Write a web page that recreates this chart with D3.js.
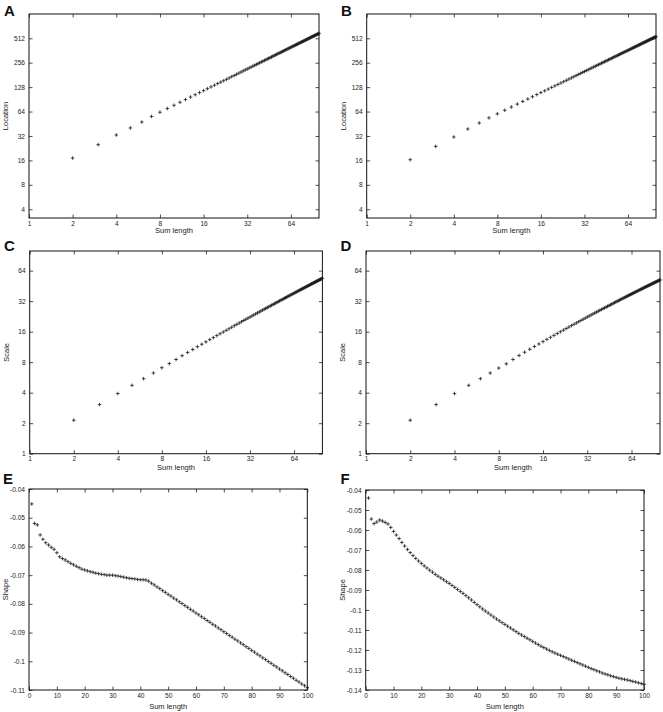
<!DOCTYPE html>
<html lang="en">
<head>
  <meta charset="UTF-8" />
  <title>Location, scale and shape vs sum length</title>
  <style>
    body { margin: 0; background: #fff; }
    svg { display: block; font-family: 'Liberation Sans', Arial, sans-serif; }
    .tick text { font-size: 6.6px; fill: #222; }
    .tick line { stroke: #222; stroke-width: 0.8; }
    .axis-title { font-size: 7.5px; fill: #222; }
    .panel-letter { font-size: 15px; font-weight: bold; fill: #111; }
  </style>
</head>
<body>
  <svg id="chart" width="663" height="712"></svg>
  <script src="https://d3js.org/d3.v7.min.js"></script>
  <script>
    // ---- data ----
    const sumLengthLog = d3.range(2, 101);   // sum lengths 2..100 (log panels)
    const sumLengthLin = d3.range(1, 101);   // sum lengths 1..100 (shape panels)

    const locationA = [17.1, 25.0, 32.9, 40.2, 47.5, 55.7, 62.8, 69.7, 76.5, 83.3,
      89.9, 96.6, 103.1, 109.6, 116.0, 122.5, 128.8, 135.2, 141.4,
      147.5, 153.6, 159.8, 165.9, 172.0, 178.1, 184.2, 190.4, 196.5, 202.6,
      208.5, 214.3, 220.2, 226.1, 231.9, 237.8, 243.7, 249.6, 255.4, 261.3,
      267.0, 272.7, 278.5, 284.2, 289.9, 295.6, 301.3, 307.1, 312.8, 318.5,
      324.1, 329.7, 335.3, 340.9, 346.5, 352.0, 357.6, 363.2, 368.8, 374.4,
      379.9, 385.3, 390.8, 396.3, 401.8, 407.2, 412.7, 418.2, 423.6, 429.1,
      434.5, 439.9, 445.2, 450.6, 456.0, 461.4, 466.8, 472.1, 477.5, 482.9,
      488.2, 493.6, 498.9, 504.2, 509.6, 514.9, 520.2, 525.5, 530.9, 536.2,
      541.4, 546.7, 551.9, 557.2, 562.4, 567.6, 572.9, 578.1, 583.4, 588.6];

    const locationB = [16.3, 23.8, 31.1, 39.0, 46.3, 53.5, 60.0, 66.4, 72.8, 79.1,
      85.3, 91.4, 97.5, 103.5, 109.5, 115.3, 121.2, 127.0, 132.8,
      138.4, 144.0, 149.6, 155.2, 160.8, 166.3, 171.9, 177.5, 183.1, 188.7,
      194.1, 199.4, 204.8, 210.1, 215.5, 220.8, 226.2, 231.5, 236.9, 242.2,
      247.4, 252.5, 257.7, 262.9, 268.1, 273.2, 278.4, 283.6, 288.7, 293.9,
      298.9, 304.0, 309.0, 314.1, 319.1, 324.1, 329.2, 334.2, 339.3, 344.3,
      349.2, 354.1, 359.0, 363.9, 368.8, 373.7, 378.6, 383.5, 388.4, 393.3,
      398.2, 403.0, 407.9, 412.7, 417.6, 422.4, 427.3, 432.1, 437.0, 441.8,
      446.6, 451.3, 456.1, 460.9, 465.7, 470.4, 475.2, 480.0, 484.7, 489.5,
      494.2, 498.8, 503.5, 508.1, 512.8, 517.5, 522.1, 526.8, 531.4, 536.1];

    const scaleC = [2.14, 3.05, 3.92, 4.73, 5.50, 6.25, 7.05, 7.75, 8.50, 9.27,
      9.98, 10.67, 11.36, 12.03, 12.69, 13.35, 13.99, 14.63, 15.26,
      15.87, 16.48, 17.08, 17.69, 18.30, 18.88, 19.46, 20.04, 20.62, 21.20,
      21.75, 22.30, 22.86, 23.41, 23.96, 24.49, 25.03, 25.56, 26.10, 26.63,
      27.14, 27.65, 28.16, 28.67, 29.18, 29.69, 30.19, 30.70, 31.21, 31.72,
      32.20, 32.68, 33.16, 33.64, 34.12, 34.60, 35.08, 35.56, 36.04, 36.52,
      36.98, 37.43, 37.89, 38.35, 38.81, 39.26, 39.72, 40.18, 40.63, 41.09,
      41.53, 41.97, 42.41, 42.85, 43.29, 43.73, 44.17, 44.61, 45.05, 45.49,
      45.91, 46.33, 46.76, 47.18, 47.60, 48.02, 48.44, 48.86, 49.29, 49.71,
      50.12, 50.53, 50.94, 51.35, 51.76, 52.16, 52.57, 52.98, 53.39, 53.80];

    const scaleD = [2.14, 3.05, 3.92, 4.73, 5.50, 6.25, 7.00, 7.70, 8.50, 9.31,
      10.03, 10.73, 11.42, 12.10, 12.77, 13.43, 14.08, 14.71, 15.34,
      15.95, 16.55, 17.16, 17.76, 18.37, 18.94, 19.51, 20.08, 20.65, 21.22,
      21.76, 22.30, 22.84, 23.38, 23.92, 24.44, 24.96, 25.47, 25.99, 26.51,
      27.00, 27.49, 27.97, 28.46, 28.95, 29.44, 29.93, 30.41, 30.90, 31.39,
      31.85, 32.30, 32.76, 33.21, 33.67, 34.12, 34.58, 35.03, 35.49, 35.94,
      36.37, 36.79, 37.22, 37.64, 38.07, 38.50, 38.92, 39.35, 39.77, 40.20,
      40.61, 41.02, 41.42, 41.83, 42.24, 42.65, 43.06, 43.46, 43.87, 44.28,
      44.67, 45.05, 45.44, 45.83, 46.22, 46.60, 46.99, 47.38, 47.76, 48.15,
      48.52, 48.88, 49.25, 49.61, 49.98, 50.34, 50.71, 51.07, 51.44, 51.80];

    const shapeE = [-0.0452, -0.0520, -0.0525, -0.0560, -0.0575, -0.0587, -0.0595, -0.0603, -0.0610, -0.0622,
      -0.0636, -0.0642, -0.0647, -0.0653, -0.0659, -0.0664, -0.0669, -0.0674, -0.0679, -0.0682,
      -0.0685, -0.0688, -0.0690, -0.0693, -0.0695, -0.0697, -0.0698, -0.0700, -0.0700, -0.0700,
      -0.0702, -0.0703, -0.0705, -0.0707, -0.0709, -0.0711, -0.0712, -0.0713, -0.0715, -0.0716,
      -0.0716, -0.0717, -0.0721, -0.0728, -0.0734, -0.0741, -0.0747, -0.0754, -0.0760, -0.0767,
      -0.0773, -0.0780, -0.0786, -0.0793, -0.0799, -0.0806, -0.0812, -0.0819, -0.0825, -0.0832,
      -0.0838, -0.0845, -0.0851, -0.0858, -0.0864, -0.0871, -0.0877, -0.0884, -0.0890, -0.0897,
      -0.0903, -0.0910, -0.0916, -0.0923, -0.0929, -0.0936, -0.0942, -0.0949, -0.0955, -0.0962,
      -0.0968, -0.0975, -0.0981, -0.0988, -0.0994, -0.1001, -0.1007, -0.1014, -0.1020, -0.1027,
      -0.1033, -0.1040, -0.1046, -0.1053, -0.1059, -0.1066, -0.1072, -0.1079, -0.1085, -0.1092];

    const shapeF = [-0.0440, -0.0545, -0.0568, -0.0560, -0.0550, -0.0555, -0.0562, -0.0570, -0.0587, -0.0607,
      -0.0625, -0.0643, -0.0662, -0.0680, -0.0697, -0.0713, -0.0728, -0.0742, -0.0755, -0.0767,
      -0.0779, -0.0790, -0.0801, -0.0811, -0.0822, -0.0831, -0.0840, -0.0849, -0.0858, -0.0867,
      -0.0877, -0.0887, -0.0897, -0.0907, -0.0917, -0.0928, -0.0939, -0.0950, -0.0962, -0.0973,
      -0.0984, -0.0995, -0.1005, -0.1015, -0.1025, -0.1035, -0.1045, -0.1054, -0.1063, -0.1072,
      -0.1081, -0.1090, -0.1099, -0.1108, -0.1117, -0.1125, -0.1133, -0.1141, -0.1149, -0.1157,
      -0.1165, -0.1173, -0.1181, -0.1188, -0.1195, -0.1202, -0.1209, -0.1215, -0.1221, -0.1227,
      -0.1233, -0.1239, -0.1245, -0.1251, -0.1257, -0.1263, -0.1269, -0.1275, -0.1281, -0.1287,
      -0.1293, -0.1298, -0.1304, -0.1309, -0.1315, -0.1320, -0.1324, -0.1329, -0.1333, -0.1337,
      -0.1341, -0.1344, -0.1347, -0.1350, -0.1353, -0.1357, -0.1360, -0.1364, -0.1368, -0.1372];

    // tick labels
    const logXTicks = [1, 2, 4, 8, 16, 32, 64];
    const locationTicks = [4, 8, 16, 32, 64, 128, 256, 512];
    const scaleTicks = [1, 2, 4, 8, 16, 32, 64];
    const linXTicks = [0, 10, 20, 30, 40, 50, 60, 70, 80, 90, 100];
    const shapeETicks = [-0.04, -0.05, -0.06, -0.07, -0.08, -0.09, -0.1, -0.11];
    const shapeFTicks = [-0.04, -0.05, -0.06, -0.07, -0.08, -0.09, -0.1, -0.11, -0.12, -0.13, -0.14];

    const svg = d3.select("#chart");

    // Panel layout (pixel box of each plot frame)
    const panels = [
      { letter: "A", lx: 4, ly: 15.5, left: 29, right: 319, top: 14, bottom: 218,
        xLog: true, yLog: true, xDomain: [1, 100], yDomain: [3.12, 1020],
        xTicks: logXTicks, yTicks: locationTicks, yTitle: "Location", titleDy: 13,
        xs: sumLengthLog, ys: locationA },
      { letter: "B", lx: 341, ly: 15.5, left: 366.7, right: 656, top: 14, bottom: 218,
        xLog: true, yLog: true, xDomain: [1, 100], yDomain: [3.12, 1020],
        xTicks: logXTicks, yTicks: locationTicks, yTitle: "Location", titleDy: 13,
        xs: sumLengthLog, ys: locationB },
      { letter: "C", lx: 4, ly: 251, left: 29.7, right: 322.4, top: 251, bottom: 453.7,
        xLog: true, yLog: true, xDomain: [1, 100], yDomain: [1, 100],
        xTicks: logXTicks, yTicks: scaleTicks, yTitle: "Scale", titleDy: 14.5,
        xs: sumLengthLog, ys: scaleC },
      { letter: "D", lx: 340.5, ly: 251, left: 366, right: 660, top: 251, bottom: 453.7,
        xLog: true, yLog: true, xDomain: [1, 100], yDomain: [1, 100],
        xTicks: logXTicks, yTicks: scaleTicks, yTitle: "Scale", titleDy: 14.5,
        xs: sumLengthLog, ys: scaleD },
      { letter: "E", lx: 3, ly: 484, left: 29, right: 307.3, top: 489, bottom: 690,
        xLog: false, yLog: false, xDomain: [0, 100], yDomain: [-0.11, -0.04],
        xTicks: linXTicks, yTicks: shapeETicks, yTitle: "Shape", titleDy: 17,
        xs: sumLengthLin, ys: shapeE },
      { letter: "F", lx: 340.5, ly: 484, left: 365.7, right: 644, top: 490, bottom: 690,
        xLog: false, yLog: false, xDomain: [0, 100], yDomain: [-0.14, -0.04],
        xTicks: linXTicks, yTicks: shapeFTicks, yTitle: "Shape", titleDy: 17,
        xs: sumLengthLin, ys: shapeF }
    ];

    function drawPanel(p) {
      const x = (p.xLog ? d3.scaleLog().base(2) : d3.scaleLinear())
        .domain(p.xDomain).range([p.left, p.right]);
      const y = (p.yLog ? d3.scaleLog().base(2) : d3.scaleLinear())
        .domain(p.yDomain).range([p.bottom, p.top]);
      const fmt = d => String(d);
      const g = svg.append("g");

      // inward ticks on all four sides, labels only bottom & left
      g.append("g").attr("transform", `translate(0,${p.bottom})`)
        .call(d3.axisBottom(x).tickValues(p.xTicks).tickSize(-3.5).tickPadding(3).tickFormat(fmt));
      g.append("g").attr("transform", `translate(0,${p.top})`)
        .call(d3.axisTop(x).tickValues(p.xTicks).tickSize(-3.5).tickFormat(""));
      g.append("g").attr("transform", `translate(${p.left},0)`)
        .call(d3.axisLeft(y).tickValues(p.yTicks).tickSize(-3.5).tickPadding(4).tickFormat(fmt));
      g.append("g").attr("transform", `translate(${p.right},0)`)
        .call(d3.axisRight(y).tickValues(p.yTicks).tickSize(-3.5).tickFormat(""));
      g.selectAll(".domain").remove();
      g.selectAll("g > g").attr("font-family", null).attr("font-size", null);

      // frame
      g.append("rect")
        .attr("x", p.left).attr("y", p.top)
        .attr("width", p.right - p.left).attr("height", p.bottom - p.top)
        .attr("fill", "none").attr("stroke", "#111").attr("stroke-width", 1);

      // "+" point markers
      const pts = p.xs.map((v, i) => [v, p.ys[i]]);
      g.append("g").selectAll("path")
        .data(pts)
        .join("path")
        .attr("transform", d => `translate(${x(d[0])},${y(d[1])})`)
        .attr("d", "M-1.8,0H1.8M0,-1.8V1.8")
        .attr("stroke", "#1a1a1a")
        .attr("stroke-width", 0.8)
        .attr("fill", "none");

      // axis titles
      g.append("text").attr("class", "axis-title")
        .attr("x", (p.left + p.right) / 2).attr("y", p.bottom + p.titleDy)
        .attr("text-anchor", "middle").attr("dominant-baseline", "middle")
        .text("Sum length");
      g.append("text").attr("class", "axis-title")
        .attr("transform", `translate(${p.left - 23},${(p.top + p.bottom) / 2}) rotate(-90)`)
        .attr("text-anchor", "middle").attr("dominant-baseline", "middle")
        .text(p.yTitle);

      // panel letter
      g.append("text").attr("class", "panel-letter")
        .attr("x", p.lx).attr("y", p.ly)
        .text(p.letter);
    }

    panels.forEach(drawPanel);
  </script>
</body>
</html>
